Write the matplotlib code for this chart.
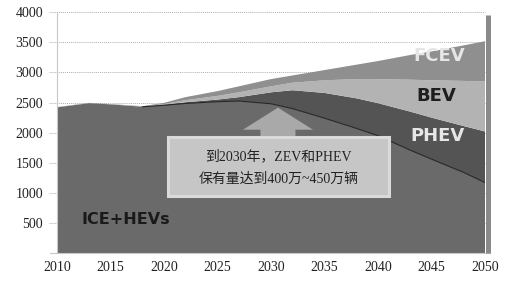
import numpy as np
import matplotlib.pyplot as plt
from matplotlib.patches import Rectangle, FancyArrow

# 保有量 (万辆), stacked layers
years = [2010, 2013, 2015, 2018, 2020, 2022, 2025, 2027, 2030, 2032, 2035, 2038, 2040, 2043, 2045, 2048, 2050]
ice = [2420, 2490, 2470, 2430, 2455, 2485, 2515, 2525, 2480, 2400, 2240, 2070, 1950, 1710, 1560, 1340, 1170]
phev = [0, 0, 0, 2, 10, 20, 35, 65, 190, 305, 420, 500, 540, 640, 690, 770, 850]
bev = [0, 0, 0, 3, 10, 35, 60, 80, 100, 125, 210, 320, 400, 530, 620, 750, 830]
fcev = [5, 5, 5, 5, 20, 50, 80, 100, 120, 120, 170, 240, 300, 410, 480, 590, 670]

layer_names = ['ICE+HEVs', 'PHEV', 'BEV', 'FCEV']
layer_colors = ['#6a6a6a', '#545454', '#b3b3b3', '#8f8f8f']
xticks = [2010, 2015, 2020, 2025, 2030, 2035, 2040, 2045, 2050]
yticks = [500, 1000, 1500, 2000, 2500, 3000, 3500, 4000]

serif = ['Liberation Serif', 'Noto Sans CJK SC']

fig = plt.figure(figsize=(5.06, 2.82), dpi=100)
ax = fig.add_axes([57 / 506, 29 / 282, 428 / 506, 240.7 / 282])

# dotted gridlines (they run a little past the left axis)
for v in yticks:
    ax.axhline(v, xmin=-0.018, xmax=1.0, color='#b0b0b0', lw=0.7,
               ls=(0, (1, 1)), clip_on=False, zorder=0)

ax.stackplot(years, ice, phev, bev, fcev, colors=layer_colors,
             labels=layer_names, zorder=1)
# dark edge on top of ICE from 2018 on
ax.plot(years[3:], ice[3:], color='#262626', lw=0.8, zorder=2)

# right-hand side wall
ax.vlines(2050.25, 0, 3960, color='#8a8a8a', lw=3.6, clip_on=False, zorder=3)

ax.set_xlim(2010, 2050)
ax.set_ylim(0, 4000)
ax.set_xticks(xticks)
ax.set_yticks(yticks)
ax.tick_params(axis='both', length=0, labelsize=10, colors='#222222')
ax.tick_params(axis='y', pad=10)
ax.tick_params(axis='x', pad=6)
for lab in ax.get_xticklabels() + ax.get_yticklabels():
    lab.set_family(serif)

for s in ['top', 'right']:
    ax.spines[s].set_visible(False)
ax.spines['left'].set_color('#c8c8c8')
ax.spines['bottom'].set_color('#c8c8c8')
ax.spines['bottom'].set_bounds(2009.3, 2050.5)

# series labels
ax.text(2045.7, 3280, 'FCEV', color='#e6e6e6', fontsize=13, fontweight='bold',
        ha='center', va='center', zorder=4)
ax.text(2045.4, 2610, 'BEV', color='#1e1e1e', fontsize=13, fontweight='bold',
        ha='center', va='center', zorder=4)
ax.text(2045.6, 1940, 'PHEV', color='#e6e6e6', fontsize=13, fontweight='bold',
        ha='center', va='center', zorder=4)
ax.text(2016.4, 550, 'ICE+HEVs', color='#1a1a1a', fontsize=11.5, fontweight='bold',
        ha='center', va='center', zorder=4)

# arrow and note box
ax.add_patch(FancyArrow(2030.65, 1933, 0, 483, width=3.27, head_width=6.54,
                        head_length=367, length_includes_head=True,
                        color='#a9a9a9', lw=0, zorder=3))
ax.add_patch(Rectangle((2020.4, 950), 20.6, 970, facecolor='#c6c6c6',
                       edgecolor='#dadada', lw=2.2, zorder=4))
ax.text(2030.7, 1600, '到2030年，ZEV和PHEV', family=serif, fontsize=10,
        color='#222222', ha='center', va='center', zorder=5)
ax.text(2030.7, 1220, '保有量达到400万~450万辆', family=serif, fontsize=10,
        color='#222222', ha='center', va='center', zorder=5)

fig.savefig('out.png', dpi=100)
